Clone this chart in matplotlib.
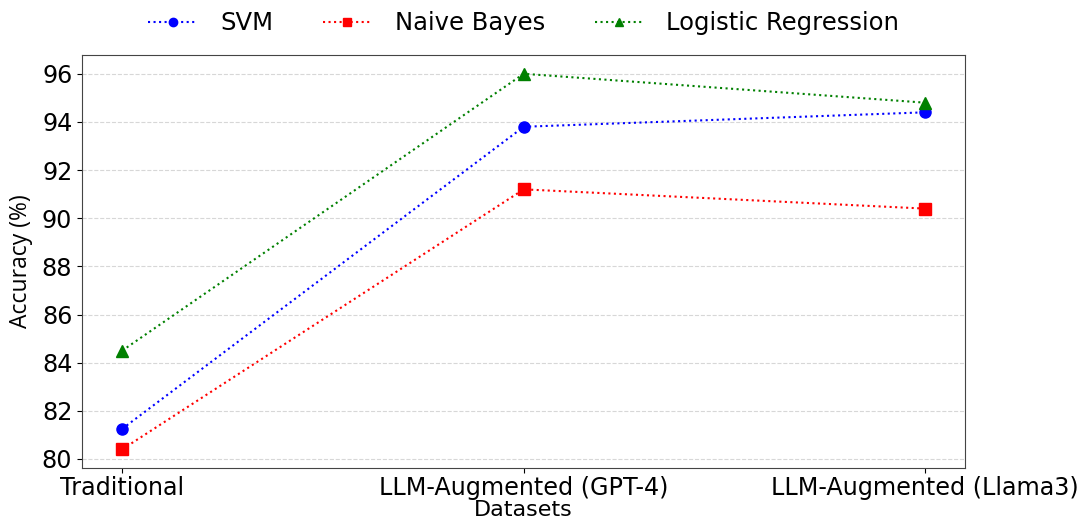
import numpy as np
import matplotlib.pyplot as plt

datasets = ['Traditional', 'LLM-Augmented (GPT-4)', 'LLM-Augmented (Llama3)']
svm = [81.25, 93.8, 94.4]
naive_bayes = [80.4, 91.2, 90.4]
logistic = [84.5, 96.0, 94.8]

fig = plt.figure(figsize=(10.86, 5.19), dpi=100)
ax = fig.add_axes([0.0755, 0.098, 0.8135, 0.796])

x = np.arange(len(datasets))
ax.plot(x, svm, ':', color='blue', marker='o', markersize=8, label='SVM')
ax.plot(x, naive_bayes, ':', color='red', marker='s', markersize=8, label='Naive Bayes')
ax.plot(x, logistic, ':', color='green', marker='^', markersize=8, label='Logistic Regression')

ax.set_xticks(x)
ax.set_xticklabels(datasets, fontsize=17.2)
ax.tick_params(axis='x', pad=2)
ax.tick_params(axis='y', labelsize=17.2)
ax.set_yticks(np.arange(80, 97, 2))
ax.grid(axis='y', linestyle='--', color='lightgray', alpha=0.9)

ax.set_xlabel('Datasets', fontsize=16, labelpad=0)
ax.set_ylabel('Accuracy (%)', family='Open Sans', fontsize=16.5, labelpad=6)

for s in ax.spines.values():
    s.set_color('#444444')

ax.legend(loc='lower center', bbox_to_anchor=(0.5, 0.995), ncol=3, frameon=False,
          fontsize=17.5, markerscale=0.75, handletextpad=0.95, columnspacing=2.05)

fig.savefig('out.png')
